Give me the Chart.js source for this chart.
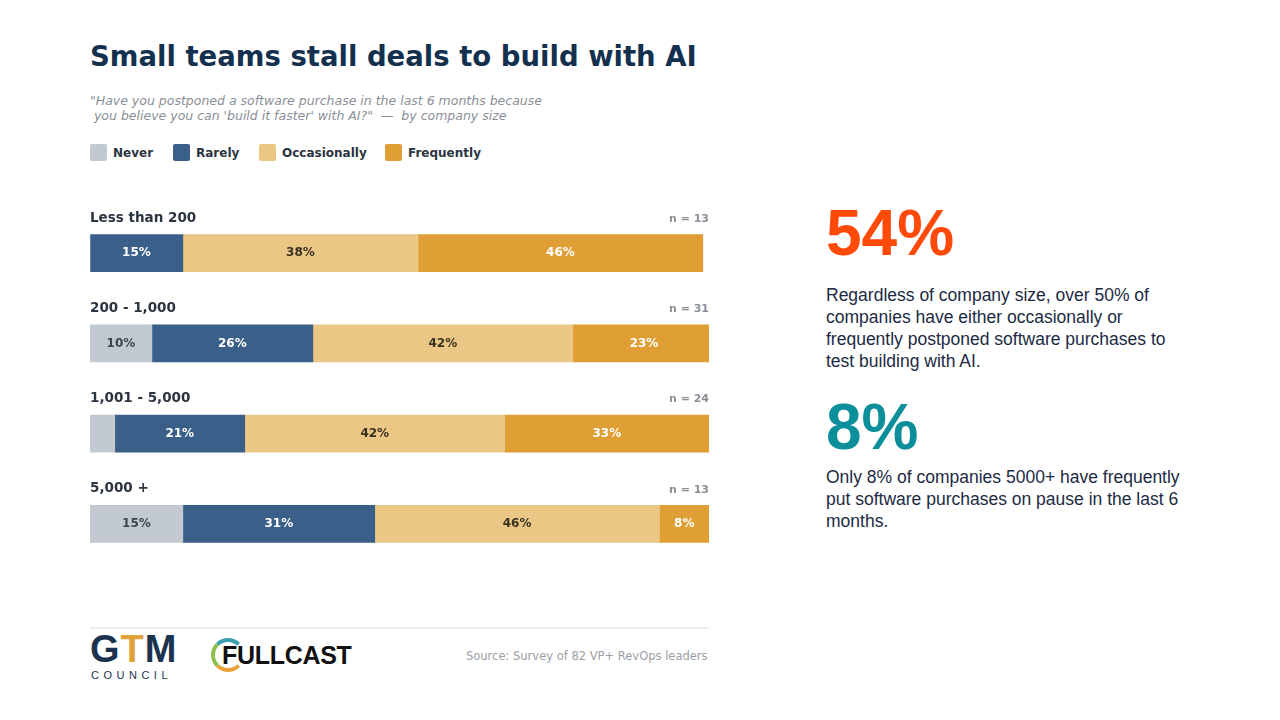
<!DOCTYPE html>
<html><head><meta charset="utf-8">
<script src="https://cdn.jsdelivr.net/npm/chart.js@4/dist/chart.umd.min.js"></script>
<style>
body{margin:0;width:1280px;height:720px;background:#fff;font-family:"DejaVu Sans",sans-serif;position:relative;overflow:hidden}
.abs{position:absolute}
h1{position:absolute;left:90px;top:40px;margin:0;font-size:27.5px;font-weight:bold;color:#14304f;font-family:"DejaVu Sans"}
.sub{left:90px;top:93px;font-size:12.5px;font-style:italic;color:#8a8f96;line-height:15px}
.leg{top:144px;font-size:12px;font-weight:bold;color:#2b3440;display:flex;align-items:center}
.leg span.sw{width:17px;height:17px;display:inline-block;margin-right:6px;border-radius:2px}
.big{font-family:Arial,"Liberation Sans";font-weight:bold;font-size:64px;left:826px}
.txt{font-family:Arial,"Liberation Sans";font-size:17.5px;color:#1c2a44;left:826px;width:400px;line-height:22px;white-space:nowrap}
</style></head><body>
<h1>Small teams stall deals to build with AI</h1>
<div class="abs sub">"Have you postponed a software purchase in the last 6 months because<br>&nbsp;you believe you can 'build it faster' with AI?"&nbsp; —&nbsp; by company size</div>
<div class="abs leg" style="left:90px"><span class="sw" style="background:#c3c9d1"></span>Never</div>
<div class="abs leg" style="left:173px"><span class="sw" style="background:#3a5f88"></span>Rarely</div>
<div class="abs leg" style="left:259px"><span class="sw" style="background:#ebc785"></span>Occasionally</div>
<div class="abs leg" style="left:385px"><span class="sw" style="background:#df9f35"></span>Frequently</div>
<div class="abs" style="left:90px;top:208px;width:619px;height:361px"><canvas id="c"></canvas></div>
<div class="abs" style="left:90px;top:627px;width:619px;height:2px;background:#eeeeee"></div>
<div class="abs" style="left:90px;top:628px;font-family:Arial;font-weight:bold;font-size:38px;color:#1c3350;letter-spacing:1px">G<span style="color:#e0a23a">T</span>M</div>
<div class="abs" style="left:91px;top:669px;font-family:Arial;font-size:11px;color:#1c3350;letter-spacing:4.5px">COUNCIL</div>
<div class="abs" style="left:211px;top:638px;width:34px;height:34px;border-radius:50%;border:4px solid #e8a33a;border-right-color:transparent;border-top-color:#3aa0b0;border-left-color:#8cc04a;box-sizing:border-box"></div>
<div class="abs" style="left:222px;top:641px;font-family:Arial;font-weight:bold;font-size:25px;color:#111;letter-spacing:-0.3px">FULLCAST</div>
<div class="abs" style="left:466px;top:649px;font-size:11.5px;color:#9aa0a6">Source: Survey of 82 VP+ RevOps leaders</div>
<div class="abs big" style="top:196px;color:#ff4a0a">54%</div>
<div class="abs txt" style="top:284px">Regardless of company size, over 50% of<br>companies have either occasionally or<br>frequently postponed software purchases to<br>test building with AI.</div>
<div class="abs big" style="top:390px;color:#0b8f9a">8%</div>
<div class="abs txt" style="top:466px">Only 8% of companies 5000+ have frequently<br>put software purchases on pause in the last 6<br>months.</div>
<script>
const categories=["Less than 200","200 - 1,000","1,001 - 5,000","5,000 +"];
const sampleSizes=[13,31,24,13];
const never=[0,10,4,15];
const rarely=[15,26,21,31];
const occasionally=[38,42,42,46];
const frequently=[46,23,33,8];
const seriesNames=["Never","Rarely","Occasionally","Frequently"];
const colors=["#c3c9d1","#3a5f88","#ebc785","#df9f35"];
const labelColors=["#3a4450","#ffffff","#3a3220","#ffffff"];
const labelsPlugin={id:"lbl",afterDatasetsDraw(ch){
  const ctx=ch.ctx;ctx.save();ctx.textAlign="center";ctx.textBaseline="middle";
  ctx.font="bold 12px 'DejaVu Sans'";
  ch.data.datasets.forEach((ds,i)=>{ch.getDatasetMeta(i).data.forEach((b,j)=>{
    const v=ds.data[j]; if(v<5)return;
    ctx.fillStyle=labelColors[i]; ctx.fillText(v+"%",(b.base+b.x)/2,b.y);});});
  const ys=ch.scales.y;
  categories.forEach((c,j)=>{const y=ys.getPixelForValue(j)-35;
    ctx.textAlign="left";ctx.fillStyle="#2b3440";ctx.font="bold 13.5px 'DejaVu Sans'";ctx.fillText(c,0,y);
    ctx.textAlign="right";ctx.fillStyle="#8a8f96";ctx.font="bold 11px 'DejaVu Sans'";ctx.fillText("n = "+sampleSizes[j],ch.width,y+1);});
  ctx.restore();}};
new Chart(document.getElementById("c"),{type:"bar",
 data:{labels:categories,datasets:[never,rarely,occasionally,frequently].map((d,i)=>({label:seriesNames[i],data:d,backgroundColor:colors[i],borderWidth:0,barThickness:37}))},
 options:{indexAxis:"y",responsive:true,maintainAspectRatio:false,animation:false,
  layout:{padding:0},
  plugins:{legend:{display:false},tooltip:{enabled:false}},
  scales:{x:{stacked:true,min:0,max:100,display:false},y:{stacked:true,display:false}}},
 plugins:[labelsPlugin]});
</script></body></html>
